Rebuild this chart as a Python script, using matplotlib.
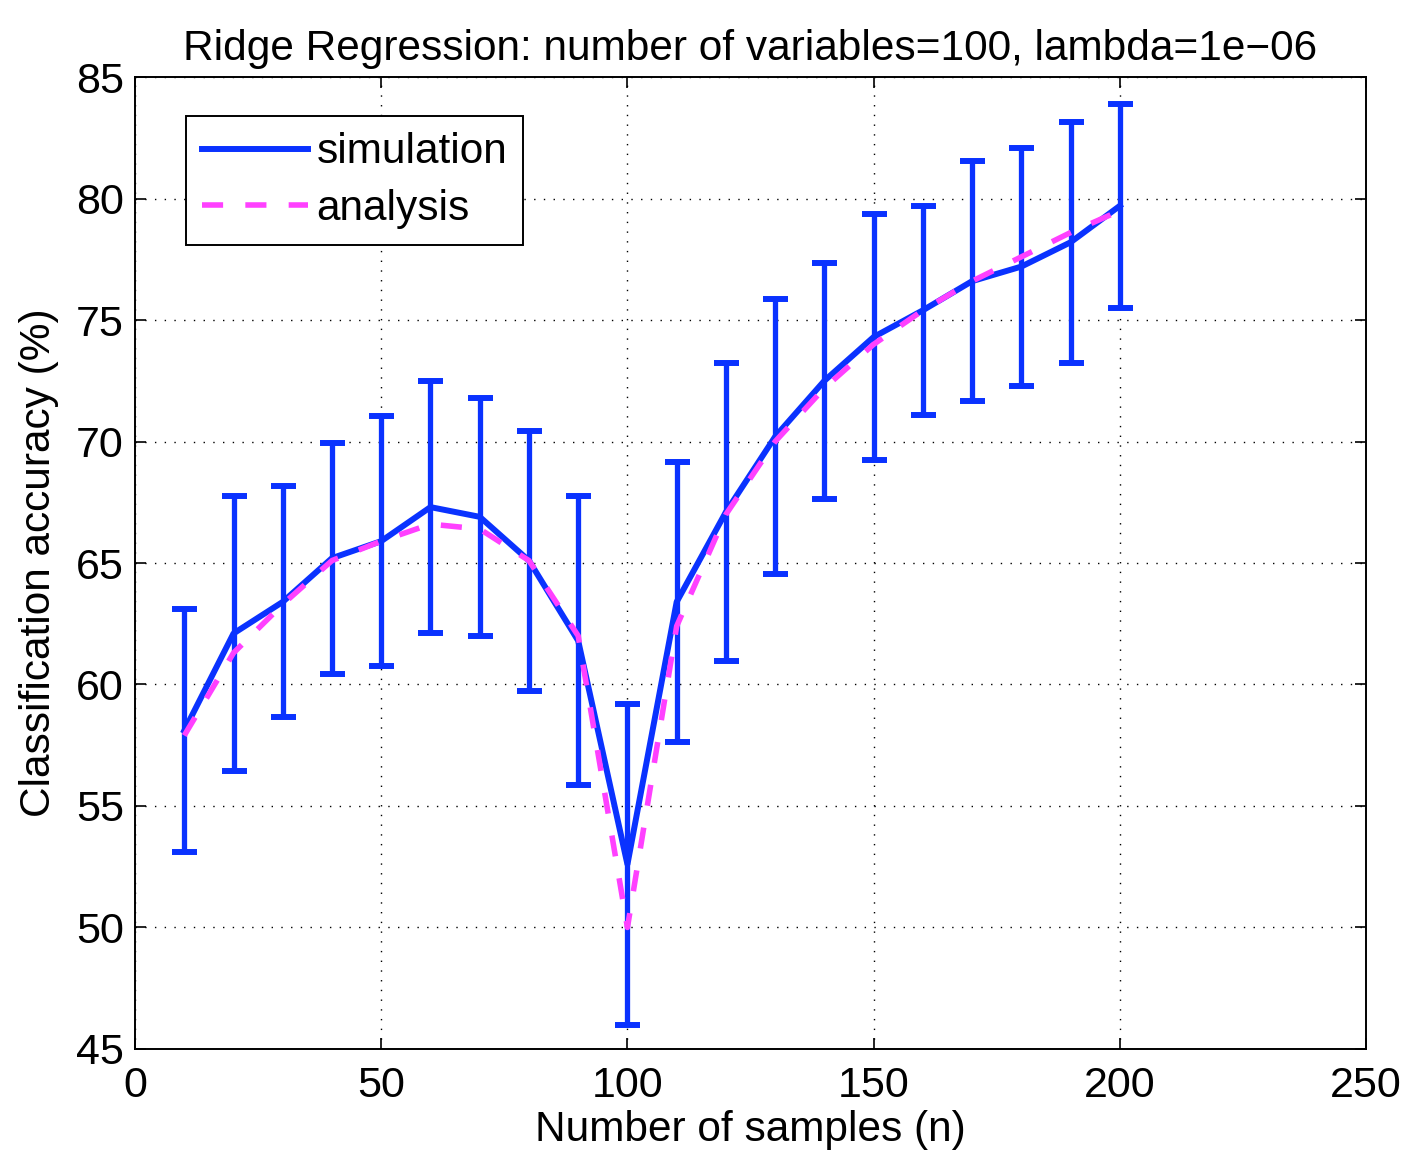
import matplotlib
matplotlib.use("Agg")
import matplotlib.pyplot as plt
from matplotlib.lines import Line2D

plt.rcParams['font.family'] = ['Liberation Sans', 'DejaVu Sans']

# Number of samples
n_samples = [10, 20, 30, 40, 50, 60, 70, 80, 90, 100,
             110, 120, 130, 140, 150, 160, 170, 180, 190, 200]
# Simulated classification accuracy (%) and its standard deviation
sim_mean = [58.1, 62.1, 63.4, 65.2, 65.9, 67.3, 66.9, 65.1, 61.8, 52.6,
            63.4, 67.1, 70.2, 72.5, 74.3, 75.4, 76.6, 77.2, 78.2, 79.7]
sim_err = [5.0, 5.65, 4.75, 4.75, 5.15, 5.2, 4.9, 5.35, 5.95, 6.6,
           5.75, 6.15, 5.65, 4.85, 5.05, 4.3, 4.95, 4.9, 4.95, 4.2]
# Analytical prediction
ana_mean = [57.9, 61.3, 63.3, 65.1, 65.9, 66.6, 66.4, 65.1, 62.0, 50.0,
            62.4, 67.0, 70.0, 72.2, 74.0, 75.4, 76.6, 77.6, 78.6, 79.5]

x_ticks = [0, 50, 100, 150, 200, 250]
y_ticks = [45, 50, 55, 60, 65, 70, 75, 80, 85]

blue = '#0A32FF'
magenta = '#FF40FF'
dash = (3.8, 4.0)

fig = plt.figure(figsize=(14.08, 11.55), dpi=100)
ax = fig.add_axes([0.0959, 0.0918, 0.8743, 0.8415])

ax.errorbar(n_samples, sim_mean, yerr=sim_err, color=blue, lw=4.3,
            elinewidth=3.8, capsize=9, capthick=4.3, zorder=3)
ax.plot(n_samples, ana_mean, color=magenta, lw=4.0, dashes=dash,
        zorder=4)

ax.set_xlim(0, 250)
ax.set_ylim(45, 85)
ax.set_xticks(x_ticks)
ax.set_yticks(y_ticks)
ax.tick_params(direction='in', length=8, width=1.2, labelsize=31,
               top=True, right=True)
ax.tick_params(axis='x', pad=12)
ax.tick_params(axis='y', pad=8)
for s in ax.spines.values():
    s.set_linewidth(1.4)
ax.grid(True, color='black', linestyle=(0, (1, 6)), linewidth=1.0)

ax.set_xlabel('Number of samples (n)', fontsize=30.5, labelpad=3)
ax.set_ylabel('Classification accuracy (%)', fontsize=30.5, labelpad=12)
ax.set_title('Ridge Regression: number of variables=100, lambda=1e\u221206',
             fontsize=30.5, pad=12)

handles = [
    Line2D([], [], color=blue, lw=4.3),
    Line2D([], [], color=magenta, lw=4.0, dashes=dash),
]
leg = ax.legend(handles, ['simulation', 'analysis'], loc='upper left',
                bbox_to_anchor=(0.0414, 0.9595), fontsize=30.5,
                handlelength=2.5, handletextpad=0.2, borderpad=0.38,
                labelspacing=0.38, borderaxespad=0, fancybox=False,
                framealpha=1)
leg.get_frame().set_edgecolor('black')
leg.get_frame().set_linewidth(1.4)

fig.savefig('out.png', dpi=100)
